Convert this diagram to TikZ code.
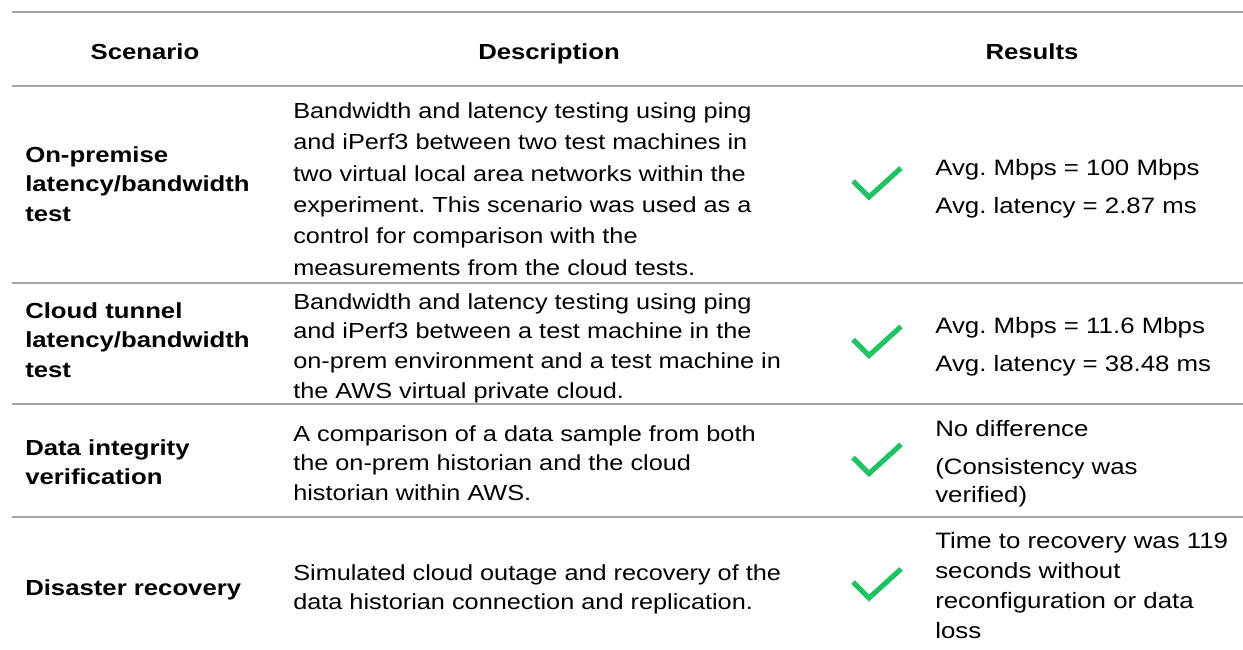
\documentclass[tikz,border=0pt]{standalone}
\usepackage{fontspec}
\setmainfont{Liberation Sans}[FakeStretch=1.16, BoldFeatures={FakeStretch=1.18}]
\definecolor{ruleGray}{HTML}{A5A5A5}
\definecolor{tickGreen}{HTML}{1DC462}
% invisible strut fixing the height of the first line of each cell
\newcommand\firstline{\rule{0pt}{13pt}}
\begin{document}
\frenchspacing
\begin{tikzpicture}[x=0.75pt,y=-0.75pt]
\tikzset{
  cell/.style={anchor=north west, inner sep=0pt, align=left, font=\fontsize{16.35}{22.2}\selectfont},
  boldcell/.style={cell, font={\fontsize{16.35}{22.2}\selectfont\bfseries}},
  head/.style={anchor=base, inner sep=0pt, font={\fontsize{16.35}{22.2}\selectfont\bfseries}},
  hline/.style={draw=ruleGray, line width=1.1pt},
  tick/.style={draw=tickGreen, line width=3.8pt, line join=miter},
  check/.pic={\draw[tick] (-24,-3) -- (-8,13) -- (24,-16);}
}
\fill[white] (0,0) rectangle (1243,650);
\useasboundingbox (0,0) rectangle (1243,650);

% horizontal rules
\foreach \yy in {12,86,283,404,517}
  \draw[hline] (12,\yy) -- (1243,\yy);

% header row
\node[head] (hScen) at (145,59) {Scenario};
\node[head] (hDesc) at (549,59) {Description};
\node[head] (hRes)  at (1032,59) {Results};

% row 1
\node[boldcell] (s1) at (25,144.67) {\firstline On-premise\\latency/bandwidth\\test};
\node[cell, font=\fontsize{16.35}{23.55}\selectfont] (d1) at (293,100.67)
  {\firstline Bandwidth and latency testing using ping\\and iPerf3 between two test machines in\\two virtual local area networks within the\\experiment. This scenario was used as a\\control for comparison with the\\measurements from the cloud tests.};
\pic at (877,184) {check};
\node[cell, font=\fontsize{16.7}{28.5}\selectfont] (r1) at (935,157.67)
  {\firstline Avg. Mbps = 100 Mbps\\Avg. latency = 2.87 ms};

% row 2
\node[boldcell] (s2) at (25,300.67) {\firstline Cloud tunnel\\latency/bandwidth\\test};
\node[cell] (d2) at (293,291.67)
  {\firstline Bandwidth and latency testing using ping\\and iPerf3 between a test machine in the\\on-prem environment and a test machine in\\the AWS virtual private cloud.};
\pic at (877,342.5) {check};
\node[cell, font=\fontsize{16.7}{28.5}\selectfont] (r2) at (935,315.67)
  {\firstline Avg. Mbps = 11.6 Mbps\\Avg. latency = 38.48 ms};

% row 3
\node[boldcell] (s3) at (25,437.67) {\firstline Data integrity\\verification};
\node[cell] (d3) at (293,423.67)
  {\firstline A comparison of a data sample from both\\the on-prem historian and the cloud\\historian within AWS.};
\pic at (877,460.5) {check};
\node[cell, font=\fontsize{16.7}{21}\selectfont] (r3) at (935,418.67)
  {\firstline No difference\\[7.5pt](Consistency was\\verified)};

% row 4
\node[boldcell] (s4) at (25,577.67) {\firstline Disaster recovery};
\node[cell] (d4) at (293,562.67)
  {\firstline Simulated cloud outage and recovery of the\\data historian connection and replication.};
\pic at (877,585) {check};
\node[cell, font=\fontsize{16.7}{22.5}\selectfont] (r4) at (935,530.67)
  {\firstline Time to recovery was 119\\seconds without\\reconfiguration or data\\loss};
\end{tikzpicture}
\end{document}
